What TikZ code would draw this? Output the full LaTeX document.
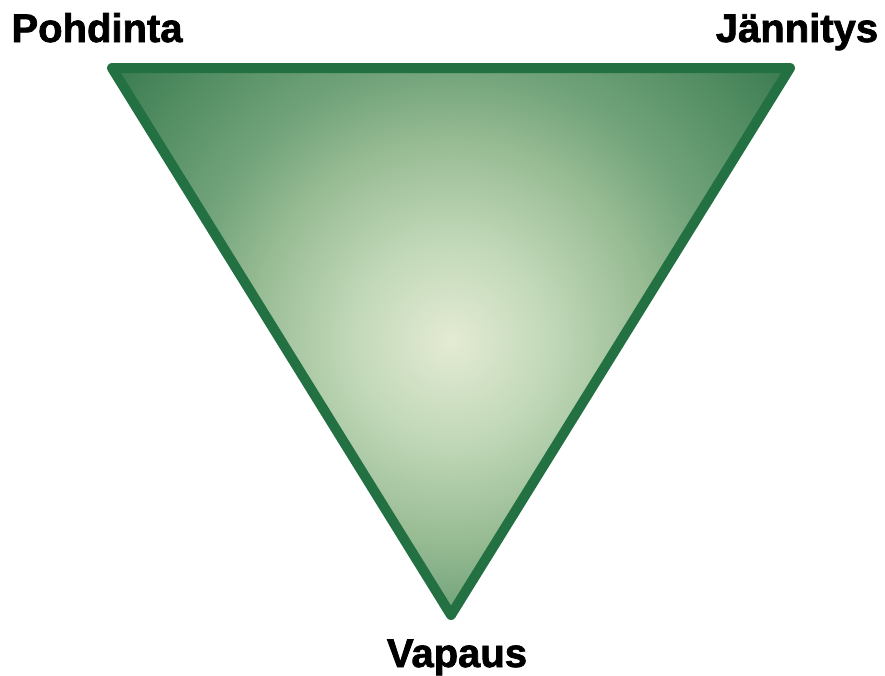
\documentclass[tikz,border=0pt]{standalone}
\usepackage{fontspec}
\setmainfont{Liberation Sans}[BoldFeatures={FakeBold=1.8}]
\definecolor{stroke}{HTML}{237142}
\definecolor{c0}{HTML}{E4EBD3}
\definecolor{c1}{HTML}{C1D8B8}
\definecolor{c2}{HTML}{97BB93}
\definecolor{c3}{HTML}{73A47B}
\definecolor{c4}{HTML}{3A7B4F}
\pgfdeclareradialshading{trishade}{\pgfpoint{0bp}{0bp}}{color(0bp)=(c0); color(5.7bp)=(c1); color(11.4bp)=(c2); color(15.3bp)=(c3); color(24.7bp)=(c4); color(50bp)=(c4)}
\tikzset{
  lbl/.style={font=\fontsize{40}{40}\selectfont\bfseries, anchor=base, text=black},
  tri/.style={draw=stroke, line width=10pt, line join=round}
}
\begin{document}
\begin{tikzpicture}[x=1pt,y=-1pt]
\useasboundingbox (0,0) rectangle (885,675);
\coordinate (tl) at (112,68);
\coordinate (tr) at (790,68);
\coordinate (bt) at (451,615);
\coordinate (gc) at (451,341);
\begin{scope}
\clip (tl) -- (tr) -- (bt) -- cycle;
\shade[shading=trishade] (gc) circle[radius=440];
\end{scope}
\draw[tri] (tl) -- (tr) -- (bt) -- cycle;
\node[lbl] (p) at (97,42) {Pohdinta};
\node[lbl] (j) at (797,42) {Jännitys};
\node[lbl] (v) at (457,667) {Vapaus};
\end{tikzpicture}
\end{document}
